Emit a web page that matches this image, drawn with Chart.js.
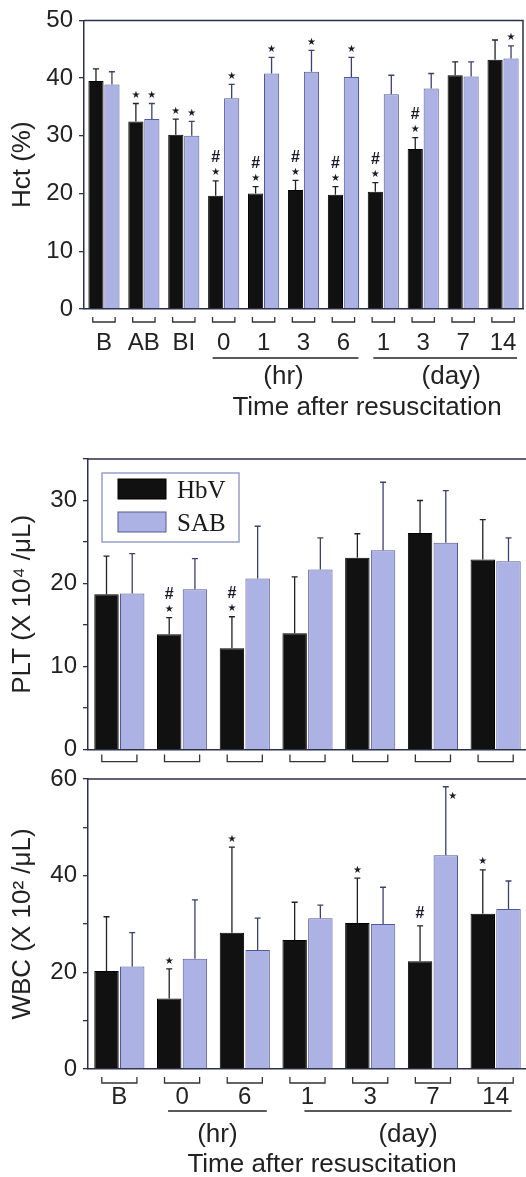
<!DOCTYPE html>
<html>
<head>
<meta charset="utf-8">
<script src="https://cdn.jsdelivr.net/npm/chart.js@4.4.0/dist/chart.umd.min.js"></script>
<style>
html, body { margin: 0; padding: 0; background: #fff; overflow: hidden; width: 526px; height: 1177px; }
.box { position: absolute; left: 0; }
</style>
</head>
<body>
<div class="box" style="top:0;width:526px;height:430px"><canvas id="chartHct"></canvas></div>
<div class="box" style="top:430px;width:530px;height:340px"><canvas id="chartPlt"></canvas></div>
<div class="box" style="top:740px;width:530px;height:437px"><canvas id="chartWbc"></canvas></div>
<script>
// Hct, time points from baseline to day 14
const hctLabels = ['B', 'AB', 'BI', '0', '1', '3', '6', '1', '3', '7', '14'];
const hctHbv = [39.5, 32.5, 30.2, 19.6, 20.0, 20.6, 19.8, 20.3, 27.7, 40.5, 43.2];
const hctHbvSd = [2.1, 3.1, 2.7, 2.6, 1.2, 1.7, 1.4, 1.6, 2.0, 2.3, 3.4];
const hctSab = [38.9, 32.9, 30.0, 36.5, 40.8, 41.1, 40.2, 37.2, 38.2, 40.3, 43.4];
const hctSabSd = [2.2, 2.7, 2.5, 2.4, 2.8, 3.7, 3.4, 3.3, 2.6, 2.5, 2.2];
const hctHbvMark = ['', '*', '*', '#*', '#*', '#*', '#*', '#*', '#*', '', ''];
const hctSabMark = ['', '*', '*', '*', '*', '*', '*', '', '', '', '*'];

// PLT and WBC share the same sampling points
const cellLabels = ['B', '0', '6', '1', '3', '7', '14'];
const pltHbv = [18.7, 13.9, 12.2, 14.0, 23.1, 26.1, 22.9];
const pltHbvSd = [4.6, 2.0, 3.8, 6.8, 2.9, 3.9, 4.8];
const pltSab = [18.8, 19.3, 20.6, 21.7, 24.0, 24.9, 22.7];
const pltSabSd = [4.8, 3.7, 6.3, 3.8, 8.2, 6.3, 2.8];
const pltHbvMark = ['', '#*', '#*', '', '', '', ''];
const pltSabMark = ['', '', '', '', '', '', ''];

const wbcHbv = [20.3, 14.6, 28.2, 26.7, 30.2, 22.3, 32.1];
const wbcHbvSd = [11.2, 6.1, 17.7, 7.8, 9.3, 7.3, 9.1];
const wbcSab = [21.2, 22.8, 24.6, 31.2, 30.0, 44.2, 33.1];
const wbcSabSd = [7.0, 12.2, 6.6, 2.7, 7.6, 14.2, 5.8];
const wbcHbvMark = ['', '*', '*', '', '*', '#', '*'];
const wbcSabMark = ['', '', '', '', '', '*', ''];

const AXIS = '#2b3148';
const TEXT = '#222';
const HBV_FILL = '#111111';
const SAB_FILL = 'rgb(172,178,228)';

Chart.defaults.font.family = '"Liberation Sans", Arial, sans-serif';
Chart.defaults.color = TEXT;

function makeSets(hbv, hbvSd, hbvMark, sab, sabSd, sabMark) {
    return [
        { label: 'HbV', data: hbv, errors: hbvSd, marks: hbvMark, errorColor: '#222',
          backgroundColor: HBV_FILL, borderColor: '#000', borderWidth: 1 },
        { label: 'SAB', data: sab, errors: sabSd, marks: sabMark, errorColor: 'rgb(60,66,105)',
          backgroundColor: SAB_FILL, borderColor: 'rgb(80,90,150)', borderWidth: 1 }
    ];
}

// upper SD whiskers plus the * / # significance marks
const errorBars = {
    id: 'errorBars',
    afterDatasetsDraw(chart) {
        const ctx = chart.ctx;
        const y = chart.scales.y;
        const area = chart.chartArea;
        chart.data.datasets.forEach(function (ds, i) {
            const meta = chart.getDatasetMeta(i);
            meta.data.forEach(function (bar, j) {
                const top = y.getPixelForValue(ds.data[j] + ds.errors[j]);
                ctx.save();
                ctx.strokeStyle = ds.errorColor;
                ctx.lineWidth = 1.3;
                ctx.beginPath();
                ctx.moveTo(bar.x, bar.y);
                ctx.lineTo(bar.x, top);
                ctx.moveTo(bar.x - 3, top);
                ctx.lineTo(bar.x + 3, top);
                ctx.stroke();

                const mark = ds.marks[j] || '';
                ctx.fillStyle = '#1a1a2a';
                ctx.textAlign = 'center';
                ctx.textBaseline = 'middle';
                if (mark.indexOf('*') >= 0) {
                    ctx.font = '10px "DejaVu Sans"';
                    if (top - 13 < area.top) {
                        ctx.fillText('\u2605', bar.x + 7, top + 10);
                    } else {
                        ctx.fillText('\u2605', bar.x, top - 8);
                    }
                }
                if (mark.indexOf('#') >= 0) {
                    ctx.font = 'bold 16px "Liberation Sans"';
                    ctx.fillText('#', bar.x, mark.indexOf('*') >= 0 ? top - 23 : top - 12);
                }
                ctx.restore();
            });
        });
    }
};

// top and right edges of the plot frame
const frame = {
    id: 'frame',
    afterDraw(chart) {
        const a = chart.chartArea;
        const ctx = chart.ctx;
        ctx.save();
        ctx.strokeStyle = AXIS;
        ctx.lineWidth = 1.5;
        ctx.beginPath();
        ctx.moveTo(a.left, a.top);
        ctx.lineTo(a.right, a.top);
        ctx.lineTo(a.right, a.bottom);
        ctx.stroke();
        ctx.restore();
    }
};

// brackets under each pair, the time labels and the hr/day spans
function groupAxis(opts) {
    return {
        id: 'groupAxis',
        afterDraw(chart) {
            const ctx = chart.ctx;
            const x = chart.scales.x;
            const base = chart.chartArea.bottom;
            const labels = chart.data.labels;
            const pitch = x.getPixelForValue(1) - x.getPixelForValue(0);
            ctx.save();
            ctx.strokeStyle = '#333';
            ctx.lineWidth = 1.3;
            labels.forEach(function (lab, i) {
                const cx = x.getPixelForValue(i);
                const hw = pitch * 0.28;
                ctx.beginPath();
                ctx.moveTo(cx - hw, base + opts.bracket[0]);
                ctx.lineTo(cx - hw, base + opts.bracket[1]);
                ctx.lineTo(cx + hw, base + opts.bracket[1]);
                ctx.lineTo(cx + hw, base + opts.bracket[0]);
                ctx.stroke();
            });
            ctx.fillStyle = TEXT;
            ctx.textAlign = 'center';
            ctx.textBaseline = 'middle';
            if (opts.showLabels) {
                ctx.font = '24px "Liberation Sans"';
                labels.forEach(function (lab, i) {
                    ctx.fillText(lab, x.getPixelForValue(i), base + opts.labelY);
                });
            }
            (opts.spans || []).forEach(function (s) {
                const x0 = x.getPixelForValue(s.from) + s.left;
                const x1 = x.getPixelForValue(s.to) + s.right;
                ctx.strokeStyle = '#222';
                ctx.lineWidth = 1.6;
                ctx.beginPath();
                ctx.moveTo(x0, base + opts.spanY);
                ctx.lineTo(x1, base + opts.spanY);
                ctx.stroke();
                ctx.font = '26px "Liberation Sans"';
                ctx.fillText(s.text, (x0 + x1) / 2 + s.dx, base + opts.spanTextY);
            });
            if (opts.title) {
                ctx.font = '26px "Liberation Sans"';
                ctx.fillText(opts.title, chart.chartArea.left + opts.titleX, base + opts.titleY);
            }
            ctx.restore();
        }
    };
}

// boxed legend in the upper left of the platelet plot
const boxLegend = {
    id: 'boxLegend',
    afterDraw(chart) {
        const ctx = chart.ctx;
        const a = chart.chartArea;
        const left = a.left + 14;
        const top = a.top + 14;
        ctx.save();
        ctx.strokeStyle = 'rgb(150,160,205)';
        ctx.lineWidth = 1.5;
        ctx.strokeRect(left, top, 137, 69);
        chart.data.datasets.forEach(function (ds, i) {
            const sy = top + 6 + i * 33;
            ctx.fillStyle = ds.backgroundColor;
            ctx.fillRect(left + 16, sy, 48, 20);
            ctx.strokeStyle = ds.borderColor;
            ctx.lineWidth = 1;
            ctx.strokeRect(left + 16, sy, 48, 20);
            ctx.fillStyle = '#1a1a1a';
            ctx.font = '25px "Liberation Serif"';
            ctx.textAlign = 'left';
            ctx.textBaseline = 'alphabetic';
            ctx.fillText(ds.label, left + 75, sy + 19);
        });
        ctx.restore();
    }
};

function yScale(max, step, labelEvery, title, width) {
    return {
        min: 0,
        max: max,
        afterFit: function (scale) { scale.width = width; },
        ticks: {
            stepSize: step,
            padding: 6,
            font: { size: 24 },
            color: TEXT,
            callback: function (v) { return v % labelEvery === 0 ? v : ''; }
        },
        grid: { drawOnChartArea: false, drawTicks: true, tickLength: 5, color: AXIS, lineWidth: 1.3 },
        border: { display: true, color: AXIS, width: 1.5 },
        title: { display: true, text: title, font: { size: 26 }, color: TEXT, padding: { top: 7, bottom: 0 } }
    };
}

function xScale(height) {
    return {
        type: 'category',
        afterFit: function (scale) { scale.height = height; },
        ticks: { display: false },
        grid: { display: false },
        border: { display: true, color: AXIS, width: 1.5 }
    };
}

function barChart(id, labels, sets, yOpts, xHeight, padTop, catPct, groupOpts, extra) {
    return new Chart(document.getElementById(id), {
        type: 'bar',
        data: { labels: labels, datasets: sets },
        options: {
            responsive: true,
            maintainAspectRatio: false,
            animation: false,
            layout: { padding: { top: padTop, right: 3, left: 0, bottom: 0 } },
            datasets: { bar: { categoryPercentage: catPct, barPercentage: 0.95 } },
            plugins: {
                legend: { display: false },
                tooltip: { enabled: false }
            },
            scales: { x: xScale(xHeight), y: yOpts }
        },
        plugins: [errorBars, frame, groupAxis(groupOpts)].concat(extra || [])
    });
}

barChart('chartHct', hctLabels,
    makeSets(hctHbv, hctHbvSd, hctHbvMark, hctSab, hctSabSd, hctSabMark),
    yScale(50, 10, 10, 'Hct (%)', 84), 121, 17, 0.8,
    {
        bracket: [8, 13], showLabels: true, labelY: 34,
        spans: [
            { from: 3, to: 6, left: -11, right: 15, text: '(hr)', dx: -2 },
            { from: 7, to: 10, left: -10, right: 14, text: '(day)', dx: 6 }
        ],
        spanY: 49, spanTextY: 68,
        title: 'Time after resuscitation', titleX: 283, titleY: 99
    });

barChart('chartPlt', cellLabels,
    makeSets(pltHbv, pltHbvSd, pltHbvMark, pltSab, pltSabSd, pltSabMark),
    yScale(35, 5, 10, 'PLT (X 10\u2074 /\u03bcL)', 88), 20, 29, 0.82,
    { bracket: [5, 12], showLabels: false, spans: [] },
    [boxLegend]);

barChart('chartWbc', cellLabels,
    makeSets(wbcHbv, wbcHbvSd, wbcHbvMark, wbcSab, wbcSabSd, wbcSabMark),
    yScale(60, 10, 20, 'WBC (X 10\u00b2 /\u03bcL)', 88), 108, 39, 0.82,
    {
        bracket: [8, 14], showLabels: true, labelY: 28,
        spans: [
            { from: 1, to: 2, left: -14, right: 22, text: '(hr)', dx: 0 },
            { from: 3, to: 6, left: -3, right: 16, text: '(day)', dx: 0 }
        ],
        spanY: 42, spanTextY: 66,
        title: 'Time after resuscitation', titleX: 234, titleY: 96
    });
</script>
</body>
</html>
